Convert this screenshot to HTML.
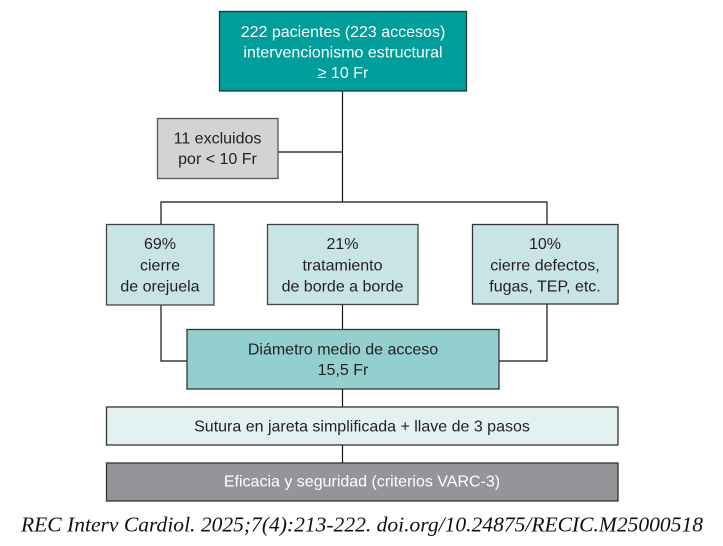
<!DOCTYPE html>
<html>
<head>
<meta charset="utf-8">
<style>
html,body{margin:0;padding:0;background:#fff;}
svg{display:block;}
text{font-family:"Liberation Sans",Arial,sans-serif;font-size:16px;fill:#231f20;}
</style>
</head>
<body>
<svg width="723" height="546" viewBox="0 0 723 546" xmlns="http://www.w3.org/2000/svg">
  <!-- connectors -->
  <g stroke="#111" stroke-width="1.2" fill="none">
    <line x1="342.5" y1="91" x2="342.5" y2="202"/>
    <line x1="278" y1="152" x2="342.5" y2="152"/>
    <polyline points="161,224 161,202 547,202 547,224"/>
    <line x1="342.5" y1="304" x2="342.5" y2="329"/>
    <polyline points="161,305 161,361 187,361"/>
    <polyline points="547,304 547,361 499,361"/>
    <line x1="342.5" y1="389" x2="342.5" y2="407"/>
    <line x1="342.5" y1="445" x2="342.5" y2="463"/>
  </g>

  <!-- top box -->
  <rect x="219.5" y="11.5" width="247" height="79.5" fill="#009e9a" stroke="#1d3a3a" stroke-width="1.3"/>
  <text x="343" y="37" text-anchor="middle" style="fill:#fff">222 pacientes (223 accesos)</text>
  <text x="343" y="57.5" text-anchor="middle" style="fill:#fff">intervencionismo estructural</text>
  <text x="343" y="78" text-anchor="middle" style="fill:#fff">≥ 10 Fr</text>

  <!-- excluded -->
  <rect x="157.5" y="118.5" width="120.5" height="60" fill="#d3d3d4" stroke="#555" stroke-width="1.3"/>
  <text x="217.5" y="143.5" text-anchor="middle">11 excluidos</text>
  <text x="217.5" y="164" text-anchor="middle">por &lt; 10 Fr</text>

  <!-- three boxes -->
  <rect x="106.5" y="224.5" width="107.5" height="80.5" fill="#c8e4e5" stroke="#444" stroke-width="1.3"/>
  <text x="160" y="249" text-anchor="middle">69%</text>
  <text x="160" y="270.5" text-anchor="middle">cierre</text>
  <text x="160" y="291.5" text-anchor="middle">de orejuela</text>

  <rect x="267.5" y="224.5" width="150.5" height="80" fill="#c8e4e5" stroke="#444" stroke-width="1.3"/>
  <text x="342.5" y="249" text-anchor="middle">21%</text>
  <text x="342.5" y="270.5" text-anchor="middle">tratamiento</text>
  <text x="342.5" y="291.5" text-anchor="middle">de borde a borde</text>

  <rect x="472.5" y="224.5" width="145.5" height="79.5" fill="#c8e4e5" stroke="#333" stroke-width="1.3"/>
  <text x="545" y="249" text-anchor="middle">10%</text>
  <text x="545" y="270.5" text-anchor="middle">cierre defectos,</text>
  <text x="545" y="291.5" text-anchor="middle">fugas, TEP, etc.</text>

  <!-- diameter -->
  <rect x="187" y="329.5" width="312" height="59.5" fill="#94cfd0" stroke="#333" stroke-width="1.3"/>
  <text x="343" y="354.5" text-anchor="middle">Diámetro medio de acceso</text>
  <text x="343" y="375" text-anchor="middle">15,5 Fr</text>

  <!-- sutura -->
  <rect x="106.5" y="407" width="511.5" height="38" fill="#e3f1f1" stroke="#333" stroke-width="1.3"/>
  <text x="362" y="431.5" text-anchor="middle">Sutura en jareta simplificada + llave de 3 pasos</text>

  <!-- eficacia -->
  <rect x="106.5" y="463" width="511.5" height="38" fill="#939598" stroke="#333" stroke-width="1.3"/>
  <text x="362" y="486.5" text-anchor="middle" style="fill:#fff">Eficacia y seguridad (criterios VARC-3)</text>

  <!-- citation -->
  <text x="21" y="531.5" textLength="682" lengthAdjust="spacingAndGlyphs" style="font-family:'Liberation Serif','Times New Roman',serif;font-style:italic;font-size:21.5px;fill:#111">REC Interv Cardiol. 2025;7(4):213-222. doi.org/10.24875/RECIC.M25000518</text>
</svg>
</body>
</html>
